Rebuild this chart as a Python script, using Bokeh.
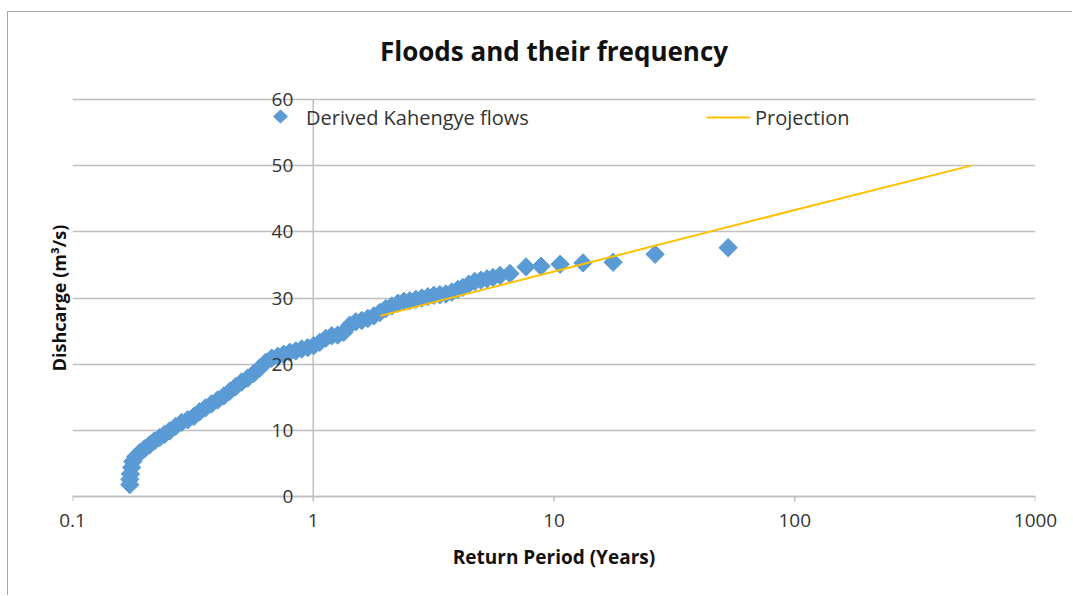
import math
from bokeh.plotting import figure
from bokeh.models import (Range1d, FixedTicker, CustomJSTickFormatter, Title,
                          Legend, LegendItem, PolyAnnotation)
from bokeh.embed import file_html
from bokeh.resources import INLINE

# Derived Kahengye flows: return period (years), discharge (m3/s)
flow_period = [0.173, 0.173, 0.174, 0.176, 0.178, 0.183, 0.190, 0.199, 0.209, 0.219,
               0.230, 0.241, 0.253, 0.268, 0.284, 0.301, 0.319, 0.337, 0.357, 0.378,
               0.401, 0.425, 0.450, 0.476, 0.504, 0.534, 0.566, 0.599, 0.635, 0.672,
               0.712, 0.754, 0.799, 0.846, 0.896, 0.949, 1.005, 1.064, 1.127, 1.194,
               1.264, 1.339, 1.418, 1.502, 1.591, 1.685, 1.785, 1.890, 2.002, 2.121,
               2.246, 2.379, 2.519, 2.669, 2.826, 2.994, 3.170, 3.357, 3.556, 3.766,
               3.988, 4.18, 4.43, 4.69, 4.97, 5.27, 5.58, 5.97, 6.56, 7.65,
               8.83, 10.6, 13.2, 17.6, 26.3, 52.9]
flow_discharge = [1.8, 2.6, 3.4, 4.4, 5.3, 6.0, 6.6, 7.2, 7.8, 8.4,
                  8.9, 9.4, 9.9, 10.6, 11.2, 11.6, 12.1, 12.8, 13.4, 14.0,
                  14.6, 15.2, 15.9, 16.6, 17.3, 17.9, 18.6, 19.4, 20.3, 20.9,
                  21.2, 21.5, 21.8, 22.0, 22.3, 22.5, 22.8, 23.3, 23.9, 24.3,
                  24.4, 24.8, 25.9, 26.4, 26.6, 26.9, 27.3, 27.8, 28.4, 28.8,
                  29.2, 29.5, 29.6, 29.8, 30.0, 30.2, 30.4, 30.5, 30.6, 30.9,
                  31.3, 31.6, 32.1, 32.5, 32.7, 32.9, 33.1, 33.4, 33.7, 34.7,
                  34.8, 35.1, 35.3, 35.4, 36.6, 37.6]

# Projection line
proj_period = [1.9, 10, 100, 540]
proj_discharge = [27.3, 34.0, 43.3, 50.0]

x_ticks = [0.1, 1, 10, 100, 1000]
y_ticks = [0, 10, 20, 30, 40, 50, 60]
y_axis_cross = 1      # value axis crosses at x = 1
x_axis_cross = 0      # horizontal axis at y = 0

FONT = "Open Sans"
GRID = "#c0c0c0"
BLUE = "#5B9BD5"
GOLD = "#FFC000"
TICK_LEN = 0.75       # x tick mark length, in y units

# frame padded a little above 60 and below 0 so the tick labels of the
# crossing value axis are not clipped
p = figure(width=1065, height=584, x_axis_type="log",
           x_range=Range1d(0.1, 1000), y_range=Range1d(-1.805, 61.805),
           output_backend="svg", toolbar_location=None,
           min_border_left=64, min_border_right=38,
           min_border_top=73, min_border_bottom=88)
p.margin = (11, 0, 0, 7)
p.styles = {"border-left": "1px solid #a8a8a8", "border-top": "1px solid #a8a8a8"}
p.outline_line_color = None
p.background_fill_color = "white"
p.border_fill_color = "white"

p.add_layout(Title(text="Floods and their frequency", align="center",
                   text_font=FONT, text_font_size="26px", text_font_style="bold",
                   text_color="#111111", standoff=37), "above")
p.add_layout(Title(text="Dishcarge (m³/s)", align="center",
                   text_font=FONT, text_font_size="18px", text_font_style="bold",
                   text_color="#111111", standoff=4), "left")

# x axis: labels and title from the axis below; its line and ticks are drawn at y = 0
xa = p.xaxis[0]
xa.ticker = FixedTicker(ticks=x_ticks)
xa.formatter = CustomJSTickFormatter(code="return tick < 1 ? tick.toFixed(1) : tick.toFixed(0);")
xa.axis_line_color = None
xa.major_tick_line_color = None
xa.major_tick_out = 0
xa.major_tick_in = 0
xa.minor_tick_line_color = None
xa.major_label_standoff = 5
xa.major_label_text_font = FONT
xa.major_label_text_font_size = "19px"
xa.major_label_text_color = "#333333"
xa.axis_label = "Return Period (Years)"
xa.axis_label_text_font = FONT
xa.axis_label_text_font_size = "19px"
xa.axis_label_text_font_style = "bold"
xa.axis_label_text_color = "#111111"
xa.axis_label_standoff = 14

# y axis crossing at x = 1
ya = p.yaxis[0]
ya.fixed_location = y_axis_cross
ya.ticker = FixedTicker(ticks=y_ticks)
ya.axis_line_color = None
ya.major_tick_line_color = None
ya.major_tick_out = 0
ya.major_tick_in = 0
ya.minor_tick_line_color = None
ya.major_label_standoff = 20
ya.major_label_text_font = FONT
ya.major_label_text_font_size = "19px"
ya.major_label_text_color = "#333333"

p.xgrid.visible = False
p.ygrid.grid_line_color = GRID
p.ygrid.grid_line_width = 1.5

# value-axis line from the lowest to the highest tick
p.segment(x0=[y_axis_cross], y0=[y_ticks[0]], x1=[y_axis_cross], y1=[y_ticks[-1]],
          line_color=GRID, line_width=1.5)
# x-axis line and tick marks at y = 0
p.segment(x0=[x_ticks[0]], y0=[x_axis_cross], x1=[x_ticks[-1]], y1=[x_axis_cross],
          line_color=GRID, line_width=1.5)
p.segment(x0=x_ticks, y0=[x_axis_cross] * len(x_ticks),
          x1=x_ticks, y1=[x_axis_cross - TICK_LEN] * len(x_ticks),
          line_color=GRID, line_width=1.5)

r1 = p.scatter(flow_period, flow_discharge, marker="square", angle=math.pi / 4,
               size=13, fill_color=BLUE, line_color=BLUE)
r2 = p.line(proj_period, proj_discharge, line_color=GOLD, line_width=2)
# invisible stand-in so the legend keeps only the label; the diamond key is drawn below
r1_key = p.scatter(x=[], y=[], marker="square", fill_alpha=0, line_alpha=0)

common = dict(glyph_width=44, glyph_height=28, label_standoff=5, padding=0, margin=0,
              border_line_color=None, background_fill_alpha=0,
              label_text_font=FONT, label_text_font_size="20px",
              label_text_color="#333333")
leg1 = Legend(items=[LegendItem(label="Derived Kahengye flows", renderers=[r1_key])],
              location=(185, 377), **common)
leg2 = Legend(items=[LegendItem(label="Projection", renderers=[r2])],
              location=(634, 377), **common)
p.add_layout(leg1)
p.add_layout(leg2)

# legend key diamond (canvas pixels)
kx, ky, kw, kh = 271, 103, 7, 6.5
p.add_layout(PolyAnnotation(xs=[kx - kw, kx, kx + kw, kx], ys=[ky, ky - kh, ky, ky + kh],
                            xs_units="canvas", ys_units="canvas",
                            fill_color=BLUE, fill_alpha=1, line_color=BLUE, line_alpha=1))

open("out.html", "w").write(file_html(p, INLINE))
